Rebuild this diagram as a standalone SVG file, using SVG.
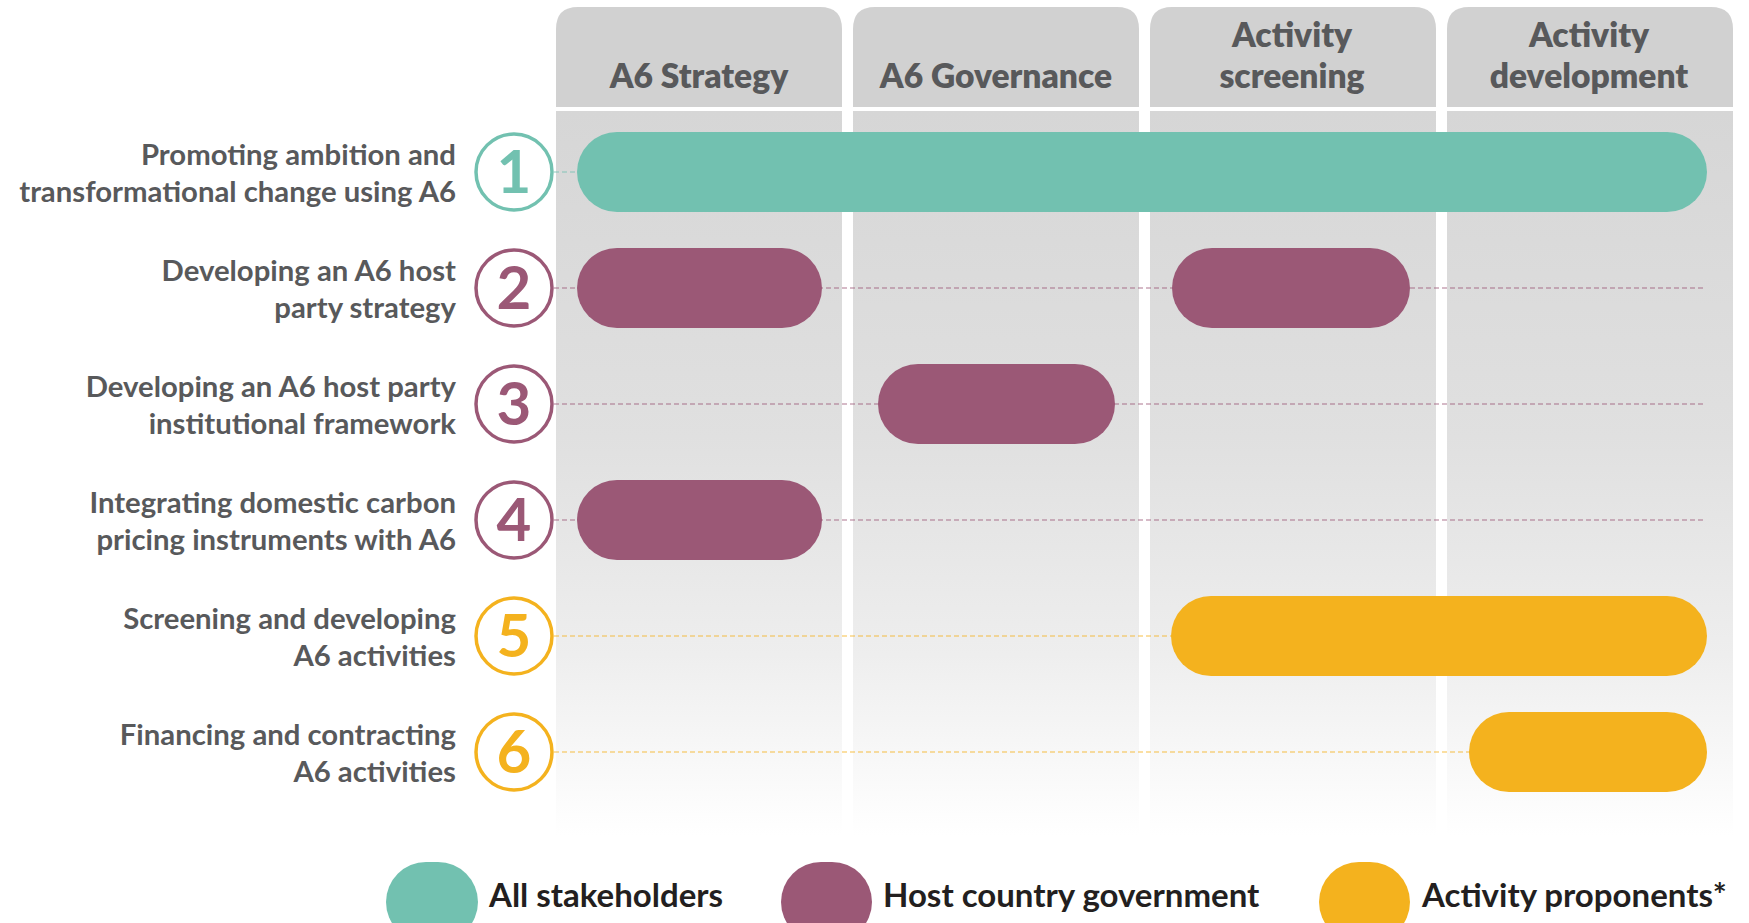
<svg xmlns="http://www.w3.org/2000/svg" width="1749" height="923" viewBox="0 0 1749 923">
<defs>
<linearGradient id="colg" gradientUnits="userSpaceOnUse" x1="0" y1="111" x2="0" y2="836">
<stop offset="0" stop-color="#d6d6d6"/>
<stop offset="0.45" stop-color="#e0e0e0"/>
<stop offset="0.75" stop-color="#eeeeee"/>
<stop offset="1" stop-color="#ffffff"/>
</linearGradient>
<style>
.hdr{fill:#d1d1d1}
.body{fill:url(#colg)}
.ht{font-family:Lato,"Liberation Sans",sans-serif;font-weight:800;font-size:33.6px;fill:#58595b;text-anchor:middle}
.lbl{font-family:Lato,"Liberation Sans",sans-serif;font-weight:bold;font-size:29.3px;fill:#58595b;text-anchor:end}
.num{font-family:Lato,"Liberation Sans",sans-serif;font-weight:bold;font-size:60px;text-anchor:middle}
.lg{font-family:Lato,"Liberation Sans",sans-serif;font-weight:bold;font-size:33px;fill:#231f20}
.ring{fill:#ffffff;stroke-width:3.5}
.dash{stroke-width:1.6;stroke-dasharray:5 3;fill:none;stroke-opacity:0.55}
.teal{fill:#72c1b0}
.plum{fill:#9b5876}
.gold{fill:#f4b21e}
</style>
</defs>
<rect width="1749" height="923" fill="#ffffff"/>
<g id="columns">
<g id="col-strategy">
<path class="hdr" d="M556 107 V29 Q556 7 578 7 H820 Q842 7 842 29 V107 Z"/>
<rect class="body" x="556" y="111" width="286" height="725"/>
<text class="ht" x="699" y="88">A6 Strategy</text>
</g>
<g id="col-governance">
<path class="hdr" d="M853 107 V29 Q853 7 875 7 H1117 Q1139 7 1139 29 V107 Z"/>
<rect class="body" x="853" y="111" width="286" height="725"/>
<text class="ht" x="996" y="88">A6 Governance</text>
</g>
<g id="col-screening">
<path class="hdr" d="M1150 107 V29 Q1150 7 1172 7 H1414 Q1436 7 1436 29 V107 Z"/>
<rect class="body" x="1150" y="111" width="286" height="725"/>
<text class="ht" x="1292" y="47">Activity</text>
<text class="ht" x="1292" y="88">screening</text>
</g>
<g id="col-development">
<path class="hdr" d="M1447 107 V29 Q1447 7 1469 7 H1711 Q1733 7 1733 29 V107 Z"/>
<rect class="body" x="1447" y="111" width="286" height="725"/>
<text class="ht" x="1589" y="47">Activity</text>
<text class="ht" x="1589" y="88">development</text>
</g>
</g>
<g id="connectors">
<line class="dash" x1="554" y1="172" x2="580" y2="172" stroke="#72c1b0"/>
<line class="dash" x1="554" y1="288" x2="1705" y2="288" stroke="#9b5876"/>
<line class="dash" x1="554" y1="404" x2="1705" y2="404" stroke="#9b5876"/>
<line class="dash" x1="554" y1="520" x2="1705" y2="520" stroke="#9b5876"/>
<line class="dash" x1="554" y1="636" x2="1705" y2="636" stroke="#f4b21e"/>
<line class="dash" x1="554" y1="752" x2="1705" y2="752" stroke="#f4b21e"/>
</g>
<g id="row1">
<text class="lbl" x="456" y="165">Promoting ambition and</text>
<text class="lbl" x="456" y="202">transformational change using A6</text>
<circle class="ring" cx="514" cy="172" r="38" stroke="#72c1b0"/>
<text class="num" x="514" y="193" fill="#72c1b0">1</text>
<rect class="teal" x="577" y="132" width="1130" height="80" rx="40"/>
</g>
<g id="row2">
<text class="lbl" x="456" y="281">Developing an A6 host</text>
<text class="lbl" x="456" y="318">party strategy</text>
<circle class="ring" cx="514" cy="288" r="38" stroke="#9b5876"/>
<text class="num" x="514" y="309" fill="#9b5876">2</text>
<rect class="plum" x="577" y="248" width="245" height="80" rx="40"/>
<rect class="plum" x="1172" y="248" width="238" height="80" rx="40"/>
</g>
<g id="row3">
<text class="lbl" x="456" y="397">Developing an A6 host party</text>
<text class="lbl" x="456" y="434">institutional framework</text>
<circle class="ring" cx="514" cy="404" r="38" stroke="#9b5876"/>
<text class="num" x="514" y="425" fill="#9b5876">3</text>
<rect class="plum" x="878" y="364" width="237" height="80" rx="40"/>
</g>
<g id="row4">
<text class="lbl" x="456" y="513">Integrating domestic carbon</text>
<text class="lbl" x="456" y="550">pricing instruments with A6</text>
<circle class="ring" cx="514" cy="520" r="38" stroke="#9b5876"/>
<text class="num" x="514" y="541" fill="#9b5876">4</text>
<rect class="plum" x="577" y="480" width="245" height="80" rx="40"/>
</g>
<g id="row5">
<text class="lbl" x="456" y="629">Screening and developing</text>
<text class="lbl" x="456" y="666">A6 activities</text>
<circle class="ring" cx="514" cy="636" r="38" stroke="#f4b21e"/>
<text class="num" x="514" y="657" fill="#f4b21e">5</text>
<rect class="gold" x="1171" y="596" width="536" height="80" rx="40"/>
</g>
<g id="row6">
<text class="lbl" x="456" y="745">Financing and contracting</text>
<text class="lbl" x="456" y="782">A6 activities</text>
<circle class="ring" cx="514" cy="752" r="38" stroke="#f4b21e"/>
<text class="num" x="514" y="773" fill="#f4b21e">6</text>
<rect class="gold" x="1469" y="712" width="238" height="80" rx="40"/>
</g>
<g id="legend">
<g id="legend-all">
<rect class="teal" x="386" y="862" width="92" height="80" rx="40"/>
<text class="lg" x="489" y="907">All stakeholders</text>
</g>
<g id="legend-host">
<rect class="plum" x="781" y="862" width="91" height="80" rx="40"/>
<text class="lg" x="883" y="907">Host country government</text>
</g>
<g id="legend-proponents">
<rect class="gold" x="1319" y="862" width="91" height="80" rx="40"/>
<text class="lg" x="1422" y="907">Activity proponents*</text>
</g>
</g>
</svg>
